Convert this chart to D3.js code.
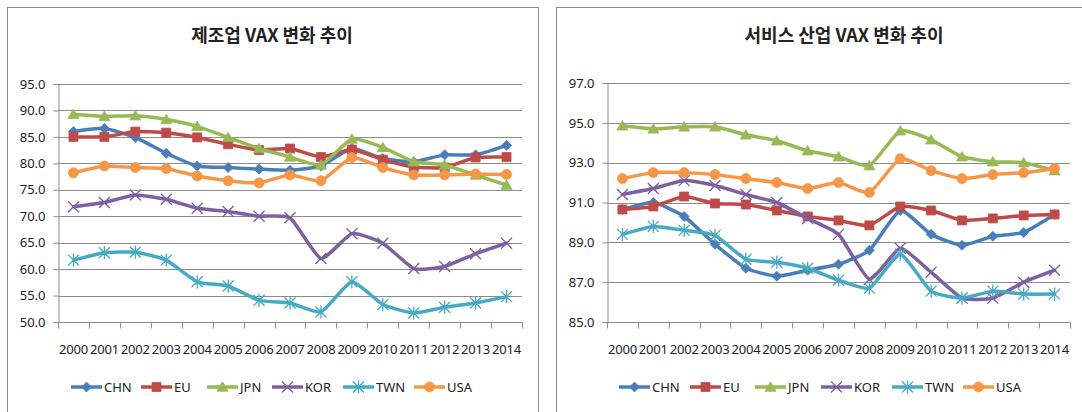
<!DOCTYPE html>
<html>
<head>
<meta charset="utf-8">
<script src="https://cdn.jsdelivr.net/npm/d3@7"></script>
<style>
  body { margin: 0; background: #fff; }
  svg { display: block; }
</style>
</head>
<body>
<svg id="chart" width="1082" height="412"></svg>
<script>
// ---- data -------------------------------------------------------------
const years = ["2000","2001","2002","2003","2004","2005","2006","2007","2008","2009","2010","2011","2012","2013","2014"];
const seriesNames = ["CHN","EU","JPN","KOR","TWN","USA"];

// manufacturing VAX
const mfgCHN = [86.0, 86.6, 84.9, 81.9, 79.5, 79.2, 78.9, 78.7, 79.5, 82.8, 80.9, 80.3, 81.6, 81.6, 83.4];
const mfgEU  = [85.0, 85.0, 86.0, 85.8, 84.9, 83.6, 82.5, 82.8, 81.2, 82.6, 80.7, 79.3, 79.2, 81.1, 81.2];
const mfgJPN = [89.3, 88.9, 89.0, 88.3, 87.0, 84.9, 82.8, 81.2, 79.7, 84.6, 83.0, 80.3, 79.7, 77.8, 75.9];
const mfgKOR = [71.8, 72.6, 74.0, 73.2, 71.5, 70.9, 70.0, 69.7, 62.0, 66.7, 64.9, 60.1, 60.5, 62.9, 64.9];
const mfgTWN = [61.7, 63.1, 63.2, 61.7, 57.6, 56.8, 54.1, 53.6, 51.9, 57.6, 53.3, 51.7, 52.8, 53.6, 54.8];
const mfgUSA = [78.2, 79.5, 79.2, 79.0, 77.6, 76.7, 76.3, 77.8, 76.7, 81.1, 79.2, 77.8, 77.8, 78.0, 77.9];

// services VAX
const svcCHN = [90.65, 91.0, 90.3, 88.9, 87.7, 87.3, 87.6, 87.9, 88.6, 90.6, 89.4, 88.85, 89.3, 89.5, 90.4];
const svcEU  = [90.65, 90.8, 91.3, 90.95, 90.9, 90.6, 90.3, 90.1, 89.85, 90.8, 90.6, 90.1, 90.2, 90.35, 90.4];
const svcJPN = [94.85, 94.7, 94.8, 94.8, 94.4, 94.1, 93.6, 93.3, 92.85, 94.6, 94.15, 93.3, 93.05, 93.0, 92.6];
const svcKOR = [91.4, 91.7, 92.1, 91.85, 91.4, 91.0, 90.2, 89.4, 87.15, 88.7, 87.5, 86.2, 86.2, 87.0, 87.6];
const svcTWN = [89.4, 89.8, 89.6, 89.35, 88.15, 88.0, 87.7, 87.1, 86.7, 88.4, 86.55, 86.2, 86.55, 86.4, 86.4];
const svcUSA = [92.2, 92.5, 92.5, 92.4, 92.2, 92.0, 91.7, 92.0, 91.5, 93.2, 92.6, 92.2, 92.4, 92.5, 92.7];

const mfgTicks = [50, 55, 60, 65, 70, 75, 80, 85, 90, 95];
const svcTicks = [85, 87, 89, 91, 93, 95, 97];

// ---- styling ------------------------------------------------------------
const colors  = { CHN: "#4a7ebb", EU: "#be4b48", JPN: "#98b954", KOR: "#7d60a0", TWN: "#46aac5", USA: "#f79646" };
const markers = { CHN: "diamond", EU: "square", JPN: "triangle", KOR: "times", TWN: "asterisk", USA: "circle" };
const gridColor = "#8c8c8c";
const textFont = "'Noto Sans', 'Noto Sans CJK KR', sans-serif";
const titleFont = "'Noto Sans CJK KR', 'Noto Sans', sans-serif";

const svg = d3.select("#chart");

function markerPath(type, r) {
  switch (type) {
    case "diamond":  return `M0,${-r}L${r},0L0,${r}L${-r},0Z`;
    case "square":   return `M${-r*0.9},${-r*0.9}H${r*0.9}V${r*0.9}H${-r*0.9}Z`;
    case "triangle": return `M0,${-r*1.05}L${r*1.1},${r*0.85}L${-r*1.1},${r*0.85}Z`;
    case "circle":   return d3.symbol(d3.symbolCircle, Math.PI * r * r)();
    case "times":    return `M${-r},${-r}L${r},${r}M${-r},${r}L${r},${-r}`;
    case "asterisk": return `M${-r},${-r}L${r},${r}M${-r},${r}L${r},${-r}M0,${-r*1.2}V${r*1.2}`;
  }
}

function drawMarker(g, type, x, y, color) {
  const stroked = type === "times" || type === "asterisk";
  g.append("path")
    .attr("transform", `translate(${x},${y})`)
    .attr("d", markerPath(type, stroked ? 5.5 : 5))
    .attr("fill", stroked ? "none" : color)
    .attr("stroke", color)
    .attr("stroke-width", stroked ? 1.3 : 0.8);
}

function drawPanel(cfg) {
  const { box, plot, title, titleX, ticks, domain, data } = cfg;

  // chart frame
  svg.append("rect")
    .attr("x", box.x + 0.5).attr("y", box.y + 0.5)
    .attr("width", box.w).attr("height", box.h)
    .attr("fill", "#fff").attr("stroke", "#8a8a8a").attr("stroke-width", 1);

  svg.append("text")
    .attr("x", titleX).attr("y", 42)
    .attr("text-anchor", "middle")
    .attr("font-family", titleFont).attr("font-size", 18).attr("font-weight", 700)
    .attr("fill", "#222")
    .text(title);

  const x = d3.scaleBand().domain(years).range([plot.x0, plot.x1]).padding(0);
  const y = d3.scaleLinear().domain(domain).range([plot.y1, plot.y0]);
  const cx = d => x(d) + x.bandwidth() / 2;

  // horizontal gridlines
  svg.append("g").selectAll("line")
    .data(ticks.slice(1))
    .join("line")
    .attr("x1", plot.x0).attr("x2", plot.x1)
    .attr("y1", d => Math.round(y(d)) + 0.5).attr("y2", d => Math.round(y(d)) + 0.5)
    .attr("stroke", gridColor).attr("stroke-width", 1);

  // y axis
  const yAxis = svg.append("g")
    .attr("transform", `translate(${Math.round(plot.x0) + 0.5},0)`)
    .call(d3.axisLeft(y).tickValues(ticks).tickFormat(d3.format(".1f")).tickSize(5).tickPadding(8));
  yAxis.select(".domain").attr("stroke", gridColor);
  yAxis.selectAll(".tick line").attr("stroke", gridColor);
  yAxis.selectAll(".tick text")
    .attr("font-family", textFont).attr("font-size", 13).attr("fill", "#222");

  // x axis: ticks at category boundaries, labels at category centres
  const xAxisG = svg.append("g").attr("transform", `translate(0,${Math.round(plot.y1) + 0.5})`);
  xAxisG.append("line")
    .attr("x1", plot.x0).attr("x2", plot.x1)
    .attr("stroke", gridColor);
  const bounds = years.map(d => x(d)).concat([plot.x1]);
  xAxisG.selectAll("line.tk")
    .data(bounds)
    .join("line").attr("class", "tk")
    .attr("x1", d => Math.round(d) + 0.5).attr("x2", d => Math.round(d) + 0.5)
    .attr("y1", 0).attr("y2", 6)
    .attr("stroke", gridColor);
  xAxisG.selectAll("text")
    .data(years)
    .join("text")
    .attr("x", d => cx(d)).attr("y", 31)
    .attr("text-anchor", "middle")
    .attr("font-family", textFont).attr("font-size", 13).attr("fill", "#222")
    .attr("letter-spacing", "-0.2")
    .text(d => d);

  // series lines, lightly smoothed
  const line = d3.line()
    .x((d, i) => cx(years[i]))
    .y(d => y(d))
    .curve(d3.curveCardinal.tension(0.5));

  seriesNames.forEach(name => {
    const vals = data[name];
    const g = svg.append("g");
    g.append("path")
      .attr("d", line(vals))
      .attr("fill", "none")
      .attr("stroke", colors[name])
      .attr("stroke-width", 3.5)
      .attr("stroke-linejoin", "round")
      .attr("stroke-linecap", "round");
    vals.forEach((v, i) => drawMarker(g, markers[name], cx(years[i]), y(v), colors[name]));
  });

  // legend
  const lg = svg.append("g");
  cfg.legendX.forEach((lx, i) => {
    const name = seriesNames[i];
    const ly = 387;
    lg.append("line")
      .attr("x1", lx).attr("x2", lx + 31).attr("y1", ly).attr("y2", ly)
      .attr("stroke", colors[name]).attr("stroke-width", 3.5);
    drawMarker(lg, markers[name], lx + 15.5, ly, colors[name]);
    lg.append("text")
      .attr("x", lx + 33).attr("y", ly + 4.5)
      .attr("font-family", textFont).attr("font-size", 13).attr("fill", "#222")
      .text(name);
  });
}

drawPanel({
  box: { x: 7, y: 7, w: 531, h: 420 },
  plot: { x0: 58, x1: 522, y0: 84, y1: 322 },
  title: "제조업 VAX 변화 추이",
  titleX: 272,
  ticks: mfgTicks,
  domain: [50, 95],
  data: { CHN: mfgCHN, EU: mfgEU, JPN: mfgJPN, KOR: mfgKOR, TWN: mfgTWN, USA: mfgUSA },
  legendX: [71, 141, 207, 272, 343, 414]
});

drawPanel({
  box: { x: 556, y: 7, w: 600, h: 420 },
  plot: { x0: 607, x1: 1070, y0: 83, y1: 322 },
  title: "서비스 산업 VAX 변화 추이",
  titleX: 844,
  ticks: svcTicks,
  domain: [85, 97],
  data: { CHN: svcCHN, EU: svcEU, JPN: svcJPN, KOR: svcKOR, TWN: svcTWN, USA: svcUSA },
  legendX: [619, 690, 755, 821, 892, 963]
});
</script>
</body>
</html>
